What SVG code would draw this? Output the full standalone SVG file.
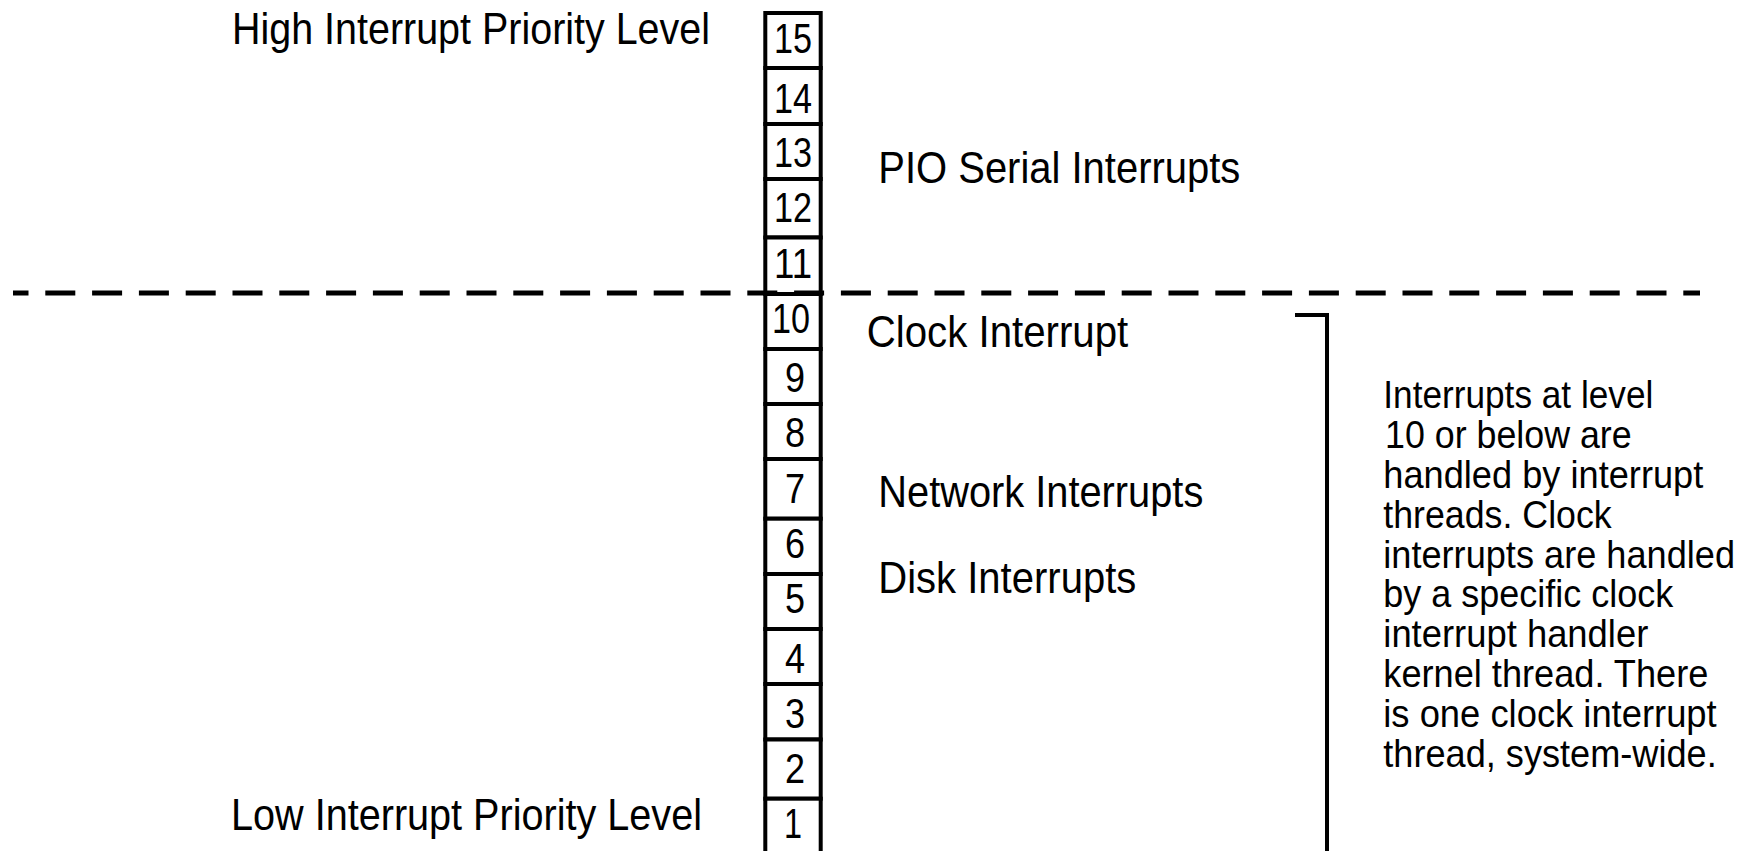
<svg xmlns="http://www.w3.org/2000/svg" width="1751" height="851" viewBox="0 0 1751 851">
  <style>
    .cell rect { fill: #ffffff; stroke: #000000; stroke-width: 4; }
    .num { font-family: "Liberation Sans", Arial, sans-serif; font-size: 42px; fill: #000000; text-anchor: middle; }
    .label { font-family: "Liberation Sans", Arial, sans-serif; font-size: 44px; fill: #000000; }
    .note { font-family: "Liberation Sans", Arial, sans-serif; font-size: 39px; fill: #000000; }
    .divider { fill: none; stroke: #000000; stroke-width: 5; stroke-dasharray: 30 16.8; }
    .bracket { fill: none; stroke: #000000; stroke-width: 4; }
  </style>
  <rect x="0" y="0" width="1751" height="851" fill="#ffffff"/>

  <!-- priority level column, 15 at the top down to 1 -->
  <g id="level-15" class="cell"><rect x="765.3" y="13" width="55.4" height="55"/><text class="num" x="793" y="53.3" textLength="38" lengthAdjust="spacingAndGlyphs">15</text></g>
  <g id="level-14" class="cell"><rect x="765.3" y="68" width="55.4" height="56"/><text class="num" x="793" y="113.3" textLength="38" lengthAdjust="spacingAndGlyphs">14</text></g>
  <g id="level-13" class="cell"><rect x="765.3" y="124" width="55.4" height="55"/><text class="num" x="793" y="166.7" textLength="38" lengthAdjust="spacingAndGlyphs">13</text></g>
  <g id="level-12" class="cell"><rect x="765.3" y="179" width="55.4" height="58.5"/><text class="num" x="793" y="222.3" textLength="38" lengthAdjust="spacingAndGlyphs">12</text></g>
  <g id="level-11" class="cell"><rect x="765.3" y="237.5" width="55.4" height="56.5"/><text class="num" x="793" y="278.3" textLength="38" lengthAdjust="spacingAndGlyphs">11</text></g>
  <g id="level-10" class="cell"><rect x="765.3" y="294" width="55.4" height="55"/><text class="num" x="791" y="333.3" textLength="38" lengthAdjust="spacingAndGlyphs">10</text></g>
  <g id="level-9" class="cell"><rect x="765.3" y="349" width="55.4" height="55"/><text class="num" x="795" y="391.7" textLength="20" lengthAdjust="spacingAndGlyphs">9</text></g>
  <g id="level-8" class="cell"><rect x="765.3" y="404" width="55.4" height="55"/><text class="num" x="795" y="446.7" textLength="20" lengthAdjust="spacingAndGlyphs">8</text></g>
  <g id="level-7" class="cell"><rect x="765.3" y="459" width="55.4" height="59.7"/><text class="num" x="795" y="503.3" textLength="20" lengthAdjust="spacingAndGlyphs">7</text></g>
  <g id="level-6" class="cell"><rect x="765.3" y="518.7" width="55.4" height="55.3"/><text class="num" x="795" y="558.3" textLength="20" lengthAdjust="spacingAndGlyphs">6</text></g>
  <g id="level-5" class="cell"><rect x="765.3" y="574" width="55.4" height="55"/><text class="num" x="795" y="613.3" textLength="20" lengthAdjust="spacingAndGlyphs">5</text></g>
  <g id="level-4" class="cell"><rect x="765.3" y="629" width="55.4" height="55"/><text class="num" x="795" y="673.3" textLength="20" lengthAdjust="spacingAndGlyphs">4</text></g>
  <g id="level-3" class="cell"><rect x="765.3" y="684" width="55.4" height="55.5"/><text class="num" x="795" y="728.3" textLength="20" lengthAdjust="spacingAndGlyphs">3</text></g>
  <g id="level-2" class="cell"><rect x="765.3" y="739.5" width="55.4" height="59.2"/><text class="num" x="795" y="783.3" textLength="20" lengthAdjust="spacingAndGlyphs">2</text></g>
  <g id="level-1" class="cell"><rect x="765.3" y="798.7" width="55.4" height="60"/><text class="num" x="793" y="838.3" textLength="18" lengthAdjust="spacingAndGlyphs">1</text></g>

  <!-- side labels -->
  <g id="label-high"><text class="label" x="232" y="44.3" textLength="478" lengthAdjust="spacingAndGlyphs">High Interrupt Priority Level</text></g>
  <g id="label-low"><text class="label" x="231" y="830" textLength="471" lengthAdjust="spacingAndGlyphs">Low Interrupt Priority Level</text></g>
  <g id="label-pio"><text class="label" x="878.3" y="183.3" textLength="362" lengthAdjust="spacingAndGlyphs">PIO Serial Interrupts</text></g>
  <g id="label-clock"><text class="label" x="866.7" y="346.7" textLength="261.6" lengthAdjust="spacingAndGlyphs">Clock Interrupt</text></g>
  <g id="label-network"><text class="label" x="878.3" y="506.7" textLength="325" lengthAdjust="spacingAndGlyphs">Network Interrupts</text></g>
  <g id="label-disk"><text class="label" x="878.3" y="593.3" textLength="258" lengthAdjust="spacingAndGlyphs">Disk Interrupts</text></g>

  <!-- explanatory note beside the bracket -->
  <g id="note-threads">
    <text class="note" x="1383.3" y="408.3" textLength="270" lengthAdjust="spacingAndGlyphs">Interrupts at level</text>
    <text class="note" x="1385" y="448.1" textLength="246.7" lengthAdjust="spacingAndGlyphs">10 or below are</text>
    <text class="note" x="1383.3" y="487.9" textLength="320" lengthAdjust="spacingAndGlyphs">handled by interrupt</text>
    <text class="note" x="1383.3" y="527.7" textLength="228.4" lengthAdjust="spacingAndGlyphs">threads. Clock</text>
    <text class="note" x="1383.3" y="567.5" textLength="351.7" lengthAdjust="spacingAndGlyphs">interrupts are handled</text>
    <text class="note" x="1383.3" y="607.3" textLength="290" lengthAdjust="spacingAndGlyphs">by a specific clock</text>
    <text class="note" x="1383.3" y="647.1" textLength="265" lengthAdjust="spacingAndGlyphs">interrupt handler</text>
    <text class="note" x="1383.3" y="686.9" textLength="325" lengthAdjust="spacingAndGlyphs">kernel thread. There</text>
    <text class="note" x="1383.3" y="726.7" textLength="333.4" lengthAdjust="spacingAndGlyphs">is one clock interrupt</text>
    <text class="note" x="1383.3" y="766.5" textLength="333.4" lengthAdjust="spacingAndGlyphs">thread, system-wide.</text>
  </g>

  <!-- connectors: level-10 divider and the bracket spanning levels 10..1 -->
  <g id="connectors">
    <line class="divider" x1="13" y1="293" x2="1700" y2="293" stroke-dashoffset="14.5"/>
    <path class="bracket" d="M1295 315 H1327 V851"/>
  </g>
</svg>
